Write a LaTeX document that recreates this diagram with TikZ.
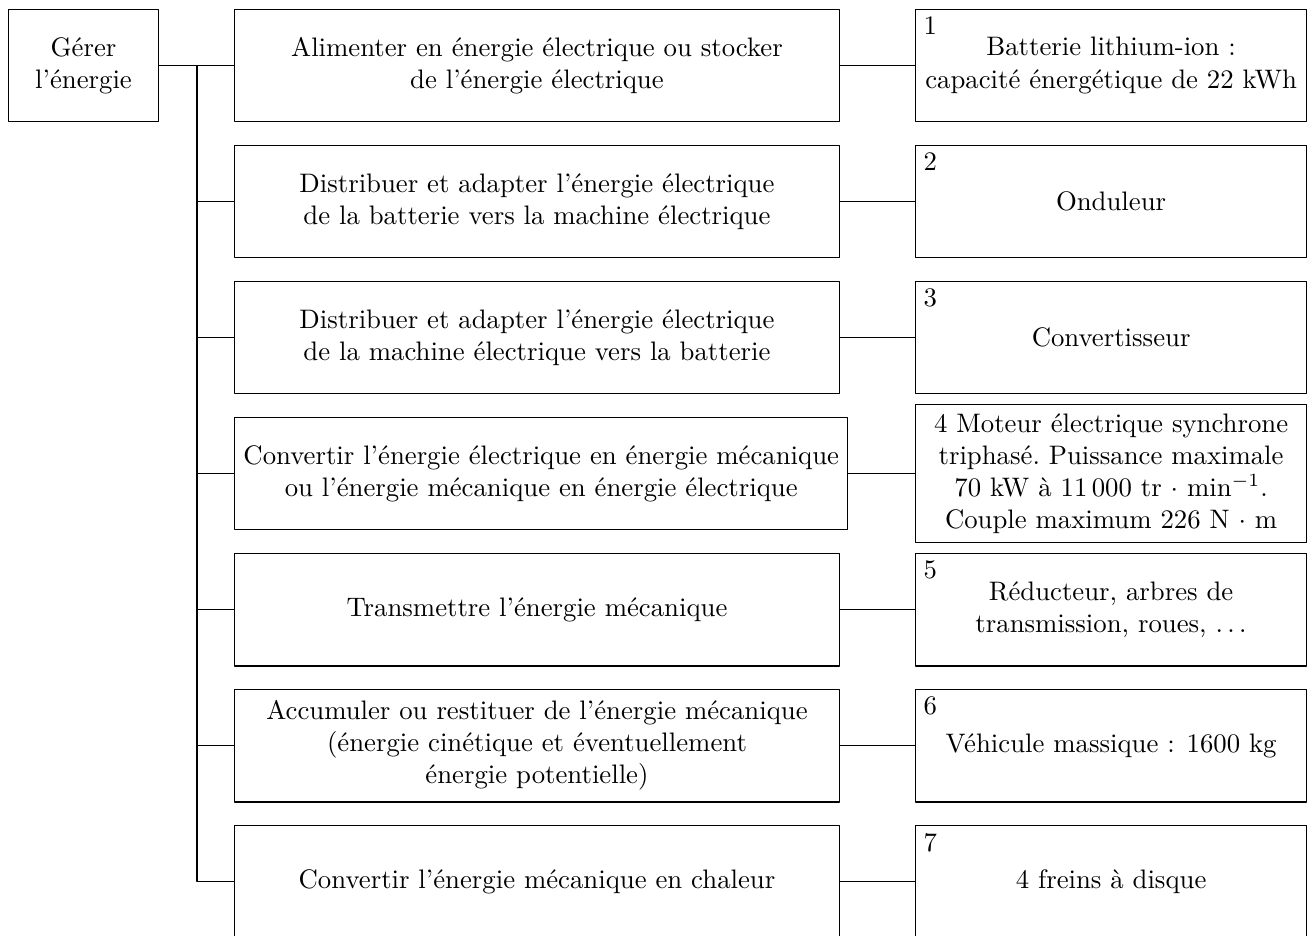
\documentclass[tikz,border=0pt]{standalone}
\usepackage{amssymb,amsmath}
\usepackage{tikz}
\usetikzlibrary{arrows}

\tikzset{
  fonction/.style={draw, anchor=west, align=center, minimum width=226.1pt, minimum height=42.2pt},
  solution/.style={draw, anchor=west, align=center, minimum width=146.2pt, minimum height=42.2pt},
  numero/.style={anchor=north west, inner sep=3pt}
}

\begin{document}
\begin{tikzpicture}[x=0.3738pt,y=-0.3738pt,join=round] % chaine d'energie
        \useasboundingbox (0,0) rectangle (1310,937);
        \clip (-1,-1) rectangle (1311,935.8);
        \node[draw, align=center, minimum width=56.4pt, minimum height=42.2pt] (gerer) at (83.5,65.5) {Gérer\\l'énergie};
        \node[fonction] (f1) at (234,65.5) {Alimenter en énergie électrique ou stocker\\de l'énergie électrique};
        \node[fonction] (f2) at (234,201.5) {Distribuer et adapter l'énergie électrique\\de la batterie vers la machine électrique};
        \node[fonction] (f3) at (234,337.5) {Distribuer et adapter l'énergie électrique\\de la machine électrique vers la batterie};
        \node[fonction] (f4) at (234,473.5) {Convertir l'énergie électrique en énergie mécanique\\ou l'énergie mécanique en énergie électrique};
        \node[fonction] (f5) at (234,609.5) {Transmettre l'énergie mécanique};
        \node[fonction] (f6) at (234,745.5) {Accumuler ou restituer de l'énergie mécanique\\(énergie cinétique et éventuellement\\énergie potentielle)};
        \node[fonction] (f7) at (234,881.5) {Convertir l'énergie mécanique en chaleur};
        \node[solution, label={[numero]north west:1}] (s1) at (915,65.5) {Batterie lithium-ion :\\capacité énergétique de 22 kWh};
        \node[solution, label={[numero]north west:2}] (s2) at (915,201.5) {Onduleur};
        \node[solution, label={[numero]north west:3}] (s3) at (915,337.5) {Convertisseur};
        \node[solution, minimum height=51.6pt] (s4) at (915,473.5) {4 Moteur électrique synchrone\\triphasé.\ Puissance maximale\\70 kW à 11\,000 tr $\cdot$ min$^{-1}$.\\Couple maximum 226 N $\cdot$ m};
        \node[solution, label={[numero]north west:5}] (s5) at (915,609.5) {Réducteur, arbres de\\transmission, roues, $\ldots$};
        \node[solution, label={[numero]north west:6}] (s6) at (915,745.5) {Véhicule massique : 1600 kg};
        \node[solution, label={[numero]north west:7}] (s7) at (915,881.5) {4 freins à disque};
        \coordinate (bus) at (197,65.5);
        \draw (gerer.east) -- (f1.west);
        \draw (bus) |- (f7.west);
        \foreach \i in {2,...,6}
                \draw (bus |- f\i.west) -- (f\i.west);
        \foreach \i in {1,...,7}
                \draw (f\i.east) -- (s\i.west);
    \end{tikzpicture}
\end{document}
